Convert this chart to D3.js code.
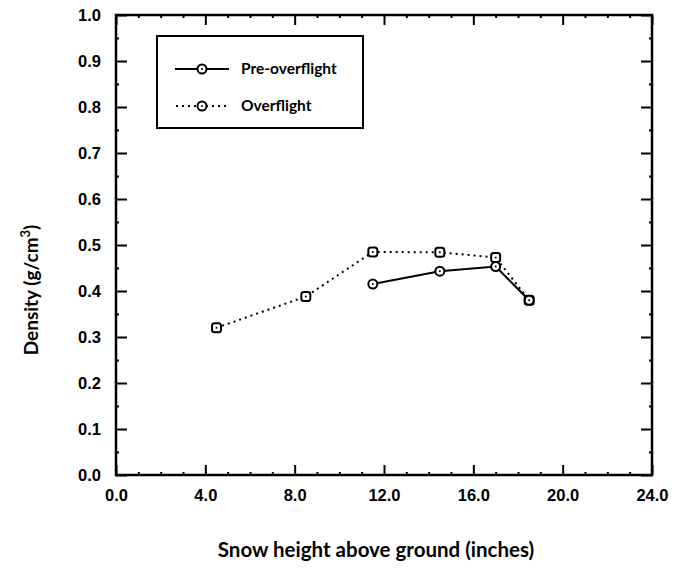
<!DOCTYPE html>
<html><head><meta charset="utf-8">
<script src="https://cdn.jsdelivr.net/npm/d3@7"></script>
<style>body{margin:0;background:#fff}svg{display:block}</style>
</head><body>
<svg id="c" width="690" height="575"></svg>
<script>
const xTicks = [0, 4, 8, 12, 16, 20, 24];
const yTicks = [0, 0.1, 0.2, 0.3, 0.4, 0.5, 0.6, 0.7, 0.8, 0.9, 1.0];
const overX = [4.5, 8.5, 11.5, 14.5, 17.0, 18.5];
const overY = [0.320, 0.388, 0.485, 0.484, 0.473, 0.380];
const preX = [11.5, 14.5, 17.0, 18.5];
const preY = [0.415, 0.443, 0.453, 0.380];
const seriesNames = ["Pre-overflight", "Overflight"];

const svg = d3.select("#c");
const L = 116, R = 652, T = 15, B = 475;
const x = d3.scaleLinear().domain([0, 24]).range([L, R]);
const y = d3.scaleLinear().domain([0, 1]).range([B, T]);
const font = "'Liberation Sans', Arial, sans-serif";
const tfont = "Lato, 'Open Sans', sans-serif";

const minorX = d3.range(0, 24.01, 1).filter(v => v % 4 !== 0);
const minorY = d3.range(0, 1.001, 0.05).filter((v, i) => i % 2 === 1);

function styleAxis(g) {
  g.select(".domain").remove();
  g.selectAll("line").attr("stroke", "#000").attr("stroke-width", 2);
}
// bottom major
svg.append("g").attr("transform", `translate(0,${B})`)
  .call(d3.axisBottom(x).tickValues(xTicks).tickSize(-10).tickFormat(d => d.toFixed(1)).tickPadding(14))
  .call(styleAxis)
  .call(g => g.selectAll("text").attr("font-family", font).attr("font-weight", "bold").attr("font-size", 16.5).attr("fill", "#000"));
svg.append("g").attr("transform", `translate(0,${B})`)
  .call(d3.axisBottom(x).tickValues(minorX).tickSize(-3).tickFormat(""))
  .call(styleAxis);
// top
svg.append("g").attr("transform", `translate(0,${T})`)
  .call(d3.axisTop(x).tickValues(xTicks).tickSize(-10).tickFormat(""))
  .call(styleAxis);
svg.append("g").attr("transform", `translate(0,${T})`)
  .call(d3.axisTop(x).tickValues(minorX).tickSize(-3).tickFormat(""))
  .call(styleAxis);
// left
svg.append("g").attr("transform", `translate(${L},0)`)
  .call(d3.axisLeft(y).tickValues(yTicks).tickSize(-11).tickFormat(d => d.toFixed(1)).tickPadding(15))
  .call(styleAxis)
  .call(g => g.selectAll("text").attr("font-family", font).attr("font-weight", "bold").attr("font-size", 16.5).attr("fill", "#000"));
svg.append("g").attr("transform", `translate(${L},0)`)
  .call(d3.axisLeft(y).tickValues(minorY).tickSize(-3).tickFormat(""))
  .call(styleAxis);
// right
svg.append("g").attr("transform", `translate(${R},0)`)
  .call(d3.axisRight(y).tickValues(yTicks).tickSize(-11).tickFormat(""))
  .call(styleAxis);
svg.append("g").attr("transform", `translate(${R},0)`)
  .call(d3.axisRight(y).tickValues(minorY).tickSize(-3).tickFormat(""))
  .call(styleAxis);

// frame
svg.append("rect").attr("x", L).attr("y", T).attr("width", R - L).attr("height", B - T)
  .attr("fill", "none").attr("stroke", "#000").attr("stroke-width", 2.5);

const line = d3.line().x(d => x(d[0])).y(d => y(d[1]));
const over = overX.map((v, i) => [v, overY[i]]);
const pre = preX.map((v, i) => [v, preY[i]]);

svg.append("path").datum(over).attr("d", line).attr("fill", "none")
  .attr("stroke", "#000").attr("stroke-width", 2).attr("stroke-dasharray", "2,4");
svg.append("path").datum(pre).attr("d", line).attr("fill", "none")
  .attr("stroke", "#000").attr("stroke-width", 2);

function squareMarker(g, cx, cy) {
  g.append("rect").attr("x", cx - 4.5).attr("y", cy - 4.5).attr("width", 9).attr("height", 9).attr("rx", 2.5)
    .attr("fill", "#fff").attr("stroke", "#000").attr("stroke-width", 2);
  g.append("circle").attr("cx", cx).attr("cy", cy).attr("r", 1).attr("fill", "#000");
}
function circleMarker(g, cx, cy) {
  g.append("circle").attr("cx", cx).attr("cy", cy).attr("r", 4.5)
    .attr("fill", "#fff").attr("stroke", "#000").attr("stroke-width", 2);
  g.append("circle").attr("cx", cx).attr("cy", cy).attr("r", 1).attr("fill", "#000");
}
const mk = svg.append("g");
over.forEach(d => squareMarker(mk, x(d[0]), y(d[1])));
pre.forEach(d => circleMarker(mk, x(d[0]), y(d[1])));

// legend
const lg = svg.append("g");
lg.append("rect").attr("x", 157).attr("y", 36).attr("width", 206).attr("height", 92)
  .attr("fill", "#fff").attr("stroke", "#000").attr("stroke-width", 2);
lg.append("line").attr("x1", 175).attr("x2", 229).attr("y1", 69).attr("y2", 69)
  .attr("stroke", "#000").attr("stroke-width", 2);
circleMarker(lg, 202, 69);
lg.append("line").attr("x1", 176).attr("x2", 229).attr("y1", 106).attr("y2", 106)
  .attr("stroke", "#000").attr("stroke-width", 2).attr("stroke-dasharray", "2,4");
circleMarker(lg, 202, 106);
lg.append("text").attr("x", 241).attr("y", 74).text(seriesNames[0])
  .attr("font-family", tfont).attr("font-weight", "bold").attr("font-size", 15.5).attr("fill", "#000");
lg.append("text").attr("x", 241).attr("y", 111).text(seriesNames[1])
  .attr("font-family", tfont).attr("font-weight", "bold").attr("font-size", 15.5).attr("fill", "#000");

// axis titles
svg.append("text").attr("x", 376).attr("y", 557).attr("text-anchor", "middle")
  .attr("font-family", tfont).attr("font-weight", "bold").attr("font-size", 20.5).attr("fill", "#000")
  .text("Snow height above ground (inches)");
const yt = svg.append("text").attr("transform", "translate(38,290) rotate(-90)").attr("text-anchor", "middle")
  .attr("font-family", tfont).attr("font-weight", "bold").attr("font-size", 19).attr("fill", "#000");
yt.append("tspan").text("Density (g/cm");
yt.append("tspan").attr("dy", -8).attr("font-size", 13).text("3");
yt.append("tspan").attr("dy", 8).text(")");
</script>
</body></html>
